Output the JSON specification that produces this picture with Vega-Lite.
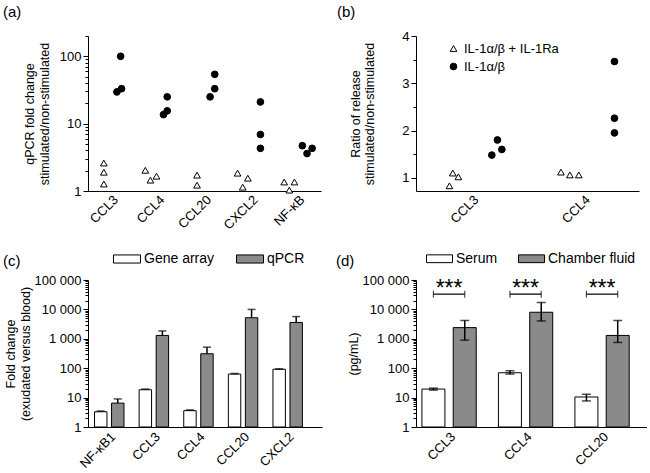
{
  "$schema": "https://vega.github.io/schema/vega-lite/v6.json",
  "padding": {"left": 3, "top": 5, "right": 0, "bottom": 0},
  "bounds": "flush",
  "columns": 2,
  "spacing": {"row": 89, "column": 94},
  "datasets": {
    "a": [
      {"pos": 0.34, "fold": 2.6, "treat": "IL-1α/β + IL-1Ra"},
      {"pos": 0.34, "fold": 1.9, "treat": "IL-1α/β + IL-1Ra"},
      {"pos": 0.34, "fold": 1.27, "treat": "IL-1α/β + IL-1Ra"},
      {"pos": 0.62, "fold": 29.6, "treat": "IL-1α/β"},
      {"pos": 0.70, "fold": 100, "treat": "IL-1α/β"},
      {"pos": 0.72, "fold": 33, "treat": "IL-1α/β"},
      {"pos": 1.23, "fold": 2.03, "treat": "IL-1α/β + IL-1Ra"},
      {"pos": 1.34, "fold": 1.45, "treat": "IL-1α/β + IL-1Ra"},
      {"pos": 1.47, "fold": 1.66, "treat": "IL-1α/β + IL-1Ra"},
      {"pos": 1.62, "fold": 13.6, "treat": "IL-1α/β"},
      {"pos": 1.70, "fold": 15.5, "treat": "IL-1α/β"},
      {"pos": 1.70, "fold": 25, "treat": "IL-1α/β"},
      {"pos": 2.34, "fold": 1.72, "treat": "IL-1α/β + IL-1Ra"},
      {"pos": 2.34, "fold": 1.22, "treat": "IL-1α/β + IL-1Ra"},
      {"pos": 2.62, "fold": 25, "treat": "IL-1α/β"},
      {"pos": 2.72, "fold": 33, "treat": "IL-1α/β"},
      {"pos": 2.72, "fold": 54, "treat": "IL-1α/β"},
      {"pos": 3.21, "fold": 1.84, "treat": "IL-1α/β + IL-1Ra"},
      {"pos": 3.32, "fold": 1.14, "treat": "IL-1α/β + IL-1Ra"},
      {"pos": 3.43, "fold": 1.55, "treat": "IL-1α/β + IL-1Ra"},
      {"pos": 3.70, "fold": 21, "treat": "IL-1α/β"},
      {"pos": 3.70, "fold": 6.9, "treat": "IL-1α/β"},
      {"pos": 3.70, "fold": 4.3, "treat": "IL-1α/β"},
      {"pos": 4.21, "fold": 1.36, "treat": "IL-1α/β + IL-1Ra"},
      {"pos": 4.32, "fold": 1.03, "treat": "IL-1α/β + IL-1Ra"},
      {"pos": 4.43, "fold": 1.36, "treat": "IL-1α/β + IL-1Ra"},
      {"pos": 4.60, "fold": 4.7, "treat": "IL-1α/β"},
      {"pos": 4.70, "fold": 3.6, "treat": "IL-1α/β"},
      {"pos": 4.81, "fold": 4.3, "treat": "IL-1α/β"}
    ],
    "b": [
      {"pos": 0.30, "ratio": 0.83, "treat": "IL-1α/β + IL-1Ra"},
      {"pos": 0.33, "ratio": 1.10, "treat": "IL-1α/β + IL-1Ra"},
      {"pos": 0.38, "ratio": 1.02, "treat": "IL-1α/β + IL-1Ra"},
      {"pos": 0.68, "ratio": 1.48, "treat": "IL-1α/β"},
      {"pos": 0.73, "ratio": 1.80, "treat": "IL-1α/β"},
      {"pos": 0.77, "ratio": 1.60, "treat": "IL-1α/β"},
      {"pos": 1.30, "ratio": 1.12, "treat": "IL-1α/β + IL-1Ra"},
      {"pos": 1.38, "ratio": 1.06, "treat": "IL-1α/β + IL-1Ra"},
      {"pos": 1.46, "ratio": 1.06, "treat": "IL-1α/β + IL-1Ra"},
      {"pos": 1.78, "ratio": 3.46, "treat": "IL-1α/β"},
      {"pos": 1.78, "ratio": 2.26, "treat": "IL-1α/β"},
      {"pos": 1.78, "ratio": 1.95, "treat": "IL-1α/β"}
    ],
    "c": [
      {"gene": "NF-κB1", "type": "Gene array", "value": 3.3, "hi": 3.5},
      {"gene": "NF-κB1", "type": "qPCR", "value": 6.5, "hi": 9.0},
      {"gene": "CCL3", "type": "Gene array", "value": 18.5, "hi": 19.5},
      {"gene": "CCL3", "type": "qPCR", "value": 1300, "hi": 1850},
      {"gene": "CCL4", "type": "Gene array", "value": 3.6, "hi": 3.8},
      {"gene": "CCL4", "type": "qPCR", "value": 310, "hi": 520},
      {"gene": "CCL20", "type": "Gene array", "value": 63, "hi": 66},
      {"gene": "CCL20", "type": "qPCR", "value": 5200, "hi": 10000},
      {"gene": "CXCL2", "type": "Gene array", "value": 92, "hi": 95},
      {"gene": "CXCL2", "type": "qPCR", "value": 3600, "hi": 5700}
    ],
    "d": [
      {"gene": "CCL3", "type": "Serum", "value": 19.5, "lo": 18, "hi": 21},
      {"gene": "CCL3", "type": "Chamber fluid", "value": 2400, "lo": 900, "hi": 4200},
      {"gene": "CCL4", "type": "Serum", "value": 70, "lo": 63, "hi": 82},
      {"gene": "CCL4", "type": "Chamber fluid", "value": 8000, "lo": 4000, "hi": 17000},
      {"gene": "CCL20", "type": "Serum", "value": 10.5, "lo": 7.7, "hi": 13},
      {"gene": "CCL20", "type": "Chamber fluid", "value": 1300, "lo": 750, "hi": 4200}
    ],
    "dsig": [
      {"gene": "CCL3", "type": "Serum", "y": 33000},
      {"gene": "CCL3", "type": "Chamber fluid", "y": 33000},
      {"gene": "CCL4", "type": "Serum", "y": 33000},
      {"gene": "CCL4", "type": "Chamber fluid", "y": 33000},
      {"gene": "CCL20", "type": "Serum", "y": 33000},
      {"gene": "CCL20", "type": "Chamber fluid", "y": 33000}
    ],
    "dstar": [
      {"gene": "CCL3", "label": "***", "y": 29000},
      {"gene": "CCL4", "label": "***", "y": 29000},
      {"gene": "CCL20", "label": "***", "y": 29000}
    ]
  },
  "concat": [
    {
      "width": 233,
      "height": 155,
      "title": {"text": "(a)", "anchor": "start", "frame": "group", "dx": -85, "offset": -2, "baseline": "alphabetic", "fontSize": 15, "fontWeight": "normal"},
      "data": {"name": "a"},
      "mark": {"type": "point", "filled": false, "strokeWidth": 1, "size": 45, "opacity": 1},
      "encoding": {
        "x": {"field": "pos", "type": "quantitative", "scale": {"domain": [0, 5], "nice": false, "zero": false},
          "axis": {"values": [0.5, 1.5, 2.5, 3.5, 4.5], "labelExpr": "['CCL3','CCL4','CCL20','CXCL2','NF-κB'][floor(datum.value)]", "ticks": false, "labelAngle": -45, "labelAlign": "right", "labelBaseline": "top", "title": null}},
        "y": {"field": "fold", "type": "quantitative", "scale": {"type": "log", "domain": [1, 200], "nice": false},
          "axis": {"values": [1,2,3,4,5,6,7,8,9,10,20,30,40,50,60,70,80,90,100,200],
            "labelExpr": "indexof([1,10,100], datum.value) >= 0 ? format(datum.value, 'd') : ''",
            "tickSize": {"condition": {"test": "indexof([1,10,100], datum.value) >= 0", "value": 5}, "value": 3},
            "title": ["qPCR fold change", "stimulated/non-stimulated"], "titlePadding": 8}},
        "shape": {"field": "treat", "type": "nominal", "scale": {"domain": ["IL-1α/β + IL-1Ra", "IL-1α/β"], "range": ["triangle-up", "circle"]}, "legend": null},
        "fill": {"field": "treat", "type": "nominal", "scale": {"domain": ["IL-1α/β + IL-1Ra", "IL-1α/β"], "range": ["white", "black"]}, "legend": null},
        "stroke": {"field": "treat", "type": "nominal", "scale": {"domain": ["IL-1α/β + IL-1Ra", "IL-1α/β"], "range": ["black", "black"]}, "legend": null}
      }
    },
    {
      "width": 223,
      "height": 155,
      "title": {"text": "(b)", "anchor": "start", "frame": "group", "dx": -79, "offset": -2, "baseline": "alphabetic", "fontSize": 15, "fontWeight": "normal"},
      "data": {"name": "b"},
      "mark": {"type": "point", "filled": false, "strokeWidth": 1, "size": 45, "opacity": 1},
      "encoding": {
        "x": {"field": "pos", "type": "quantitative", "scale": {"domain": [0, 2], "nice": false, "zero": false},
          "axis": {"values": [0.5, 1.5], "labelExpr": "['CCL3','CCL4'][floor(datum.value)]", "ticks": false, "labelAngle": -45, "labelAlign": "right", "labelBaseline": "top", "title": null}},
        "y": {"field": "ratio", "type": "quantitative", "scale": {"domain": [0.72, 4], "nice": false, "zero": false},
          "axis": {"values": [1, 1.5, 2, 2.5, 3, 3.5, 4],
            "labelExpr": "datum.value % 1 == 0 ? format(datum.value, 'd') : ''",
            "tickSize": {"condition": {"test": "datum.value % 1 == 0", "value": 5}, "value": 3},
            "title": ["Ratio of release", "stimulated/non-stimulated"], "titlePadding": 25}},
        "shape": {"field": "treat", "type": "nominal", "scale": {"domain": ["IL-1α/β + IL-1Ra", "IL-1α/β"], "range": ["triangle-up", "circle"]},
          "legend": {"orient": "none", "legendX": 31, "legendY": 6, "title": null, "symbolStrokeWidth": 1, "symbolSize": 45, "labelFontSize": 13, "labelOffset": 4, "rowPadding": 4}},
        "fill": {"field": "treat", "type": "nominal", "scale": {"domain": ["IL-1α/β + IL-1Ra", "IL-1α/β"], "range": ["white", "black"]},
          "legend": {"orient": "none", "legendX": 31, "legendY": 6, "title": null, "symbolStrokeWidth": 1, "symbolSize": 45, "labelFontSize": 13, "labelOffset": 4, "rowPadding": 4}},
        "stroke": {"field": "treat", "type": "nominal", "scale": {"domain": ["IL-1α/β + IL-1Ra", "IL-1α/β"], "range": ["black", "black"]},
          "legend": {"orient": "none", "legendX": 31, "legendY": 6, "title": null, "symbolStrokeWidth": 1, "symbolSize": 45, "labelFontSize": 13, "labelOffset": 4, "rowPadding": 4}}
      }
    },
    {
      "width": 234,
      "height": 147,
      "title": {"text": "(c)", "anchor": "start", "frame": "group", "dx": -85, "offset": -36, "baseline": "alphabetic", "fontSize": 15, "fontWeight": "normal"},
      "data": {"name": "c"},
      "encoding": {
        "x": {"field": "gene", "type": "nominal", "sort": ["NF-κB1", "CCL3", "CCL4", "CCL20", "CXCL2"],
          "scale": {"paddingInner": 0.34, "paddingOuter": 0.293, "align": 0.25},
          "axis": {"ticks": false, "labelAngle": -45, "labelAlign": "right", "labelBaseline": "top", "title": null, "labelPadding": 3}},
        "xOffset": {"field": "type", "type": "nominal", "sort": ["Gene array", "qPCR"], "scale": {"paddingInner": 0.27, "paddingOuter": 0}}
      },
      "layer": [
        {
          "mark": {"type": "bar", "stroke": "black", "strokeWidth": 1},
          "encoding": {
            "y": {"field": "value", "type": "quantitative", "scale": {"type": "log", "domain": [1, 100000], "nice": false},
              "axis": {"values": [1,2,3,4,5,6,7,8,9,10,20,30,40,50,60,70,80,90,100,200,300,400,500,600,700,800,900,1000,2000,3000,4000,5000,6000,7000,8000,9000,10000,20000,30000,40000,50000,60000,70000,80000,90000,100000],
                "labelExpr": "datum.value == 100000 ? '100 000' : datum.value == 10000 ? '10 000' : datum.value == 1000 ? '1 000' : datum.value == 100 ? '100' : datum.value == 10 ? '10' : datum.value == 1 ? '1' : ''",
                "tickSize": {"condition": {"test": "indexof([1,10,100,1000,10000,100000], datum.value) >= 0", "value": 5}, "value": 3},
                "title": ["Fold change", "(exudated versus blood)"], "titlePadding": 2}},
            "y2": {"datum": 1},
            "fill": {"field": "type", "type": "nominal", "sort": ["Gene array", "qPCR"], "scale": {"domain": ["Gene array", "qPCR"], "range": ["white", "#8a8a8a"]},
              "legend": {"orient": "none", "direction": "horizontal", "legendX": 25, "legendY": -35, "title": null, "symbolType": "M-1,-0.3L1,-0.3L1,0.3L-1,0.3Z", "symbolSize": 729, "symbolStrokeColor": "black", "symbolStrokeWidth": 1, "labelFontSize": 14, "labelOffset": 3, "columnPadding": 19}}
          }
        },
        {
          "mark": {"type": "rule", "color": "black", "strokeWidth": 1.5},
          "encoding": {"y": {"field": "value", "type": "quantitative"}, "y2": {"field": "hi"}}
        },
        {
          "mark": {"type": "tick", "color": "black", "size": 8, "thickness": 1.5, "orient": "horizontal"},
          "encoding": {"y": {"field": "hi", "type": "quantitative"}}
        }
      ]
    },
    {
      "width": 231,
      "height": 147,
      "title": {"text": "(d)", "anchor": "start", "frame": "group", "dx": -80, "offset": -36, "baseline": "alphabetic", "fontSize": 15, "fontWeight": "normal"},
      "encoding": {
        "x": {"field": "gene", "type": "nominal", "sort": ["CCL3", "CCL4", "CCL20"],
          "scale": {"paddingInner": 0.29, "paddingOuter": 0.155, "align": 0.25},
          "axis": {"ticks": false, "labelAngle": -45, "labelAlign": "right", "labelBaseline": "top", "title": null, "labelPadding": 3}}
      },
      "layer": [
        {
          "data": {"name": "d"},
          "mark": {"type": "bar", "stroke": "black", "strokeWidth": 1},
          "encoding": {
            "xOffset": {"field": "type", "type": "nominal", "sort": ["Serum", "Chamber fluid"], "scale": {"paddingInner": 0.265, "paddingOuter": 0}},
            "y": {"field": "value", "type": "quantitative", "scale": {"type": "log", "domain": [1, 100000], "nice": false},
              "axis": {"values": [1,2,3,4,5,6,7,8,9,10,20,30,40,50,60,70,80,90,100,200,300,400,500,600,700,800,900,1000,2000,3000,4000,5000,6000,7000,8000,9000,10000,20000,30000,40000,50000,60000,70000,80000,90000,100000],
                "labelExpr": "datum.value == 100000 ? '100 000' : datum.value == 10000 ? '10 000' : datum.value == 1000 ? '1 000' : datum.value == 100 ? '100' : datum.value == 10 ? '10' : datum.value == 1 ? '1' : ''",
                "tickSize": {"condition": {"test": "indexof([1,10,100,1000,10000,100000], datum.value) >= 0", "value": 5}, "value": 3},
                "title": "(pg/mL)", "titlePadding": 2}},
            "y2": {"datum": 1},
            "fill": {"field": "type", "type": "nominal", "sort": ["Serum", "Chamber fluid"], "scale": {"domain": ["Serum", "Chamber fluid"], "range": ["white", "#8a8a8a"]},
              "legend": {"orient": "none", "direction": "horizontal", "legendX": 10, "legendY": -35, "title": null, "symbolType": "M-1,-0.3L1,-0.3L1,0.3L-1,0.3Z", "symbolSize": 676, "symbolStrokeColor": "black", "symbolStrokeWidth": 1, "labelFontSize": 14, "labelOffset": 3, "columnPadding": 18}}
          }
        },
        {
          "data": {"name": "d"},
          "mark": {"type": "rule", "color": "black", "strokeWidth": 1.5},
          "encoding": {"xOffset": {"field": "type", "type": "nominal", "sort": ["Serum", "Chamber fluid"]}, "y": {"field": "lo", "type": "quantitative"}, "y2": {"field": "hi"}}
        },
        {
          "data": {"name": "d"},
          "mark": {"type": "tick", "color": "black", "size": 9, "thickness": 1.5, "orient": "horizontal"},
          "encoding": {"xOffset": {"field": "type", "type": "nominal", "sort": ["Serum", "Chamber fluid"]}, "y": {"field": "hi", "type": "quantitative"}}
        },
        {
          "data": {"name": "d"},
          "mark": {"type": "tick", "color": "black", "size": 9, "thickness": 1.5, "orient": "horizontal"},
          "encoding": {"xOffset": {"field": "type", "type": "nominal", "sort": ["Serum", "Chamber fluid"]}, "y": {"field": "lo", "type": "quantitative"}}
        },
        {
          "data": {"name": "dsig"},
          "mark": {"type": "line", "color": "black", "strokeWidth": 1.2},
          "encoding": {"xOffset": {"field": "type", "type": "nominal", "sort": ["Serum", "Chamber fluid"]}, "y": {"field": "y", "type": "quantitative"}, "detail": {"field": "gene"}}
        },
        {
          "data": {"name": "dsig"},
          "mark": {"type": "tick", "color": "black", "size": 7, "thickness": 1.2, "orient": "vertical"},
          "encoding": {"xOffset": {"field": "type", "type": "nominal", "sort": ["Serum", "Chamber fluid"]}, "y": {"field": "y", "type": "quantitative"}}
        },
        {
          "data": {"name": "dstar"},
          "mark": {"type": "text", "fontSize": 23, "baseline": "alphabetic", "align": "center", "color": "black"},
          "encoding": {"y": {"field": "y", "type": "quantitative"}, "text": {"field": "label"}}
        }
      ]
    }
  ],
  "resolve": {"scale": {"fill": "independent", "shape": "independent", "stroke": "independent", "xOffset": "independent"}, "legend": {"fill": "independent", "shape": "independent", "stroke": "independent"}},
  "config": {
    "font": "Liberation Sans",
    "view": {"stroke": null},
    "axis": {"domainColor": "black", "tickColor": "black", "labelColor": "black", "titleColor": "black", "labelFontSize": 13, "titleFontSize": 12.5, "titleFontWeight": "normal", "grid": false, "labelOverlap": false, "labelFlush": false, "domainWidth": 1, "tickWidth": 1},
    "legend": {"labelColor": "black", "labelFont": "Liberation Sans"},
    "title": {"color": "black", "font": "Liberation Sans"}
  }
}
